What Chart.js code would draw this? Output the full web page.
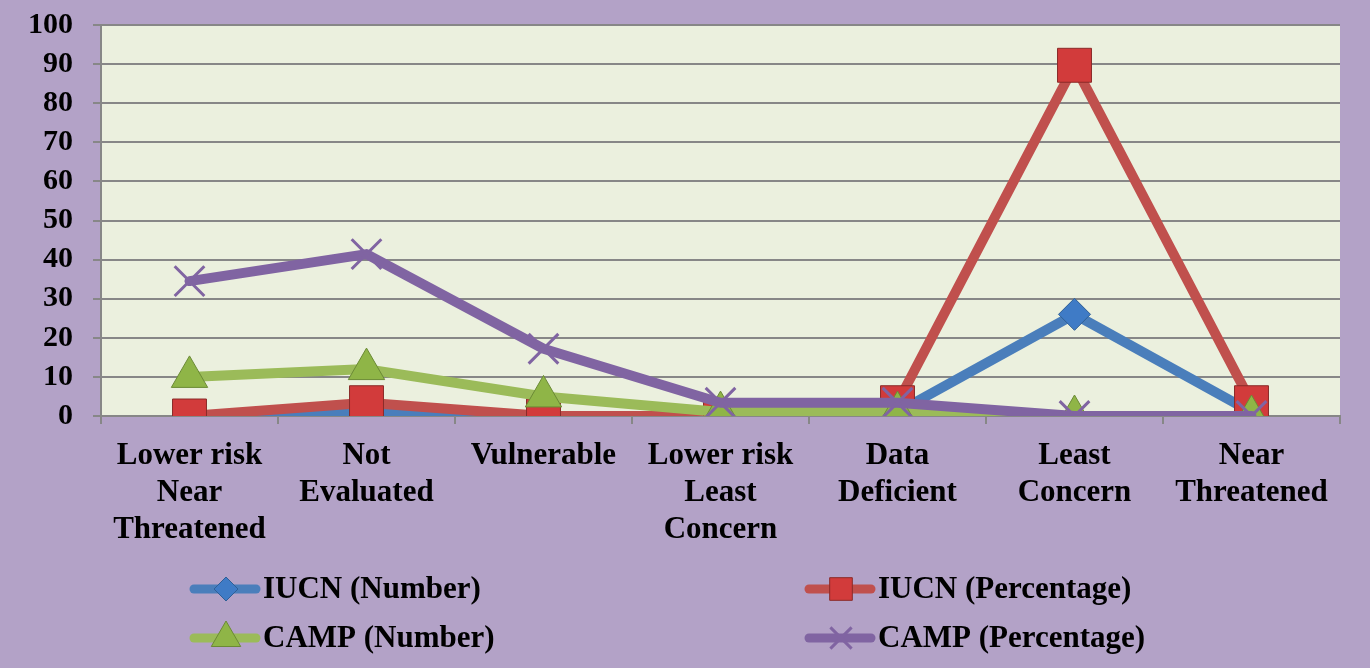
<!DOCTYPE html>
<html>
<head>
<meta charset="utf-8">
<script src="https://cdn.jsdelivr.net/npm/chart.js@4/dist/chart.umd.min.js"></script>
<style>
  html, body { margin: 0; padding: 0; background: #b3a2c7; }
  #wrap { width: 1370px; height: 668px; position: relative; }
</style>
</head>
<body>
<div id="wrap"><canvas id="statusChart"></canvas></div>
<script>
// categories (multi-line labels) and series values
const categories = [
  ['Lower risk', 'Near', 'Threatened'],
  ['Not', 'Evaluated'],
  ['Vulnerable'],
  ['Lower risk', 'Least', 'Concern'],
  ['Data', 'Deficient'],
  ['Least', 'Concern'],
  ['Near', 'Threatened']
];
const iucnNumber = [0, 1, 0, 0, 1, 26, 1];
const iucnPercentage = [0, 3.4, 0, 0, 3.4, 89.7, 3.4];
const campNumber = [10, 12, 5, 1, 1, 0, 0];
const campPercentage = [34.5, 41.4, 17.2, 3.4, 3.4, 0, 0];
const yTicks = [0, 10, 20, 30, 40, 50, 60, 70, 80, 90, 100];

(function () {
  'use strict';

  const FONT = "'Liberation Serif', 'Times New Roman', serif";
  const gridColor = '#878787';

  // light green plot area
  const plotBackground = {
    id: 'plotBackground',
    beforeDraw: function (chart) {
      const a = chart.chartArea;
      const ctx = chart.ctx;
      ctx.save();
      ctx.fillStyle = '#ebf0de';
      ctx.fillRect(a.left, a.top, a.right - a.left, a.bottom - a.top);
      ctx.restore();
    }
  };

  function drawMarker(ctx, style, r, x, y) {
    if (Chart.helpers && Chart.helpers.drawPoint) {
      Chart.helpers.drawPoint(ctx, { pointStyle: style, radius: r, rotation: 0, borderWidth: ctx.lineWidth }, x, y);
      return;
    }
    ctx.beginPath();
    ctx.arc(x, y, r * 0.7, 0, Math.PI * 2);
    ctx.fill();
    ctx.stroke();
  }

  // Excel-like legend: two columns, line with marker in the middle
  const gridLegend = {
    id: 'gridLegend',
    afterDraw: function (chart) {
      const ctx = chart.ctx;
      const cols = [190, 805];
      const rows = [589, 638];
      ctx.save();
      chart.data.datasets.forEach(function (ds, i) {
        const x = cols[i % 2];
        const y = rows[Math.floor(i / 2)];
        ctx.strokeStyle = ds.borderColor;
        ctx.lineWidth = 9;
        ctx.lineCap = 'round';
        ctx.beginPath();
        ctx.moveTo(x + 4, y);
        ctx.lineTo(x + 66, y);
        ctx.stroke();
        ctx.fillStyle = ds.pointBackgroundColor;
        ctx.strokeStyle = ds.pointBorderColor;
        ctx.lineWidth = ds.pointBorderWidth;
        ctx.lineCap = 'butt';
        drawMarker(ctx, ds.pointStyle, ds.legendRadius, x + 36, y);
        ctx.fillStyle = '#000';
        ctx.font = 'bold 31px ' + FONT;
        ctx.textAlign = 'left';
        ctx.textBaseline = 'middle';
        ctx.fillText(ds.label, x + 73, y + 1);
      });
      ctx.restore();
    }
  };

  const ctx = document.getElementById('statusChart');
  new Chart(ctx, {
    type: 'line',
    data: {
      labels: categories,
      datasets: [
        {
          label: 'IUCN (Number)',
          data: iucnNumber,
          borderColor: '#4a7ebb',
          borderWidth: 10,
          pointStyle: 'rectRot',
          pointRadius: 16,
          legendRadius: 12,
          pointBackgroundColor: '#3f7bc6',
          pointBorderColor: '#2f5f96',
          pointBorderWidth: 1,
          order: 3
        },
        {
          label: 'IUCN (Percentage)',
          data: iucnPercentage,
          borderColor: '#c0504d',
          borderWidth: 10,
          pointStyle: 'rect',
          pointRadius: 24,
          legendRadius: 16,
          pointBackgroundColor: '#d23b3b',
          pointBorderColor: '#8a2b29',
          pointBorderWidth: 1,
          order: 2
        },
        {
          label: 'CAMP (Number)',
          data: campNumber,
          borderColor: '#9bbb59',
          borderWidth: 10,
          pointStyle: 'triangle',
          pointRadius: 21,
          legendRadius: 17,
          pointBackgroundColor: '#8fb547',
          pointBorderColor: '#6b8a35',
          pointBorderWidth: 1,
          order: 1
        },
        {
          label: 'CAMP (Percentage)',
          data: campPercentage,
          borderColor: '#8064a2',
          borderWidth: 10,
          pointStyle: 'crossRot',
          pointRadius: 21,
          legendRadius: 15,
          pointBackgroundColor: '#8064a2',
          pointBorderColor: '#8064a2',
          pointBorderWidth: 3,
          order: 0
        }
      ]
    },
    options: {
      responsive: true,
      maintainAspectRatio: false,
      animation: false,
      events: [],
      layout: { padding: { top: 24, right: 30, bottom: 110, left: 0 } },
      elements: { line: { tension: 0, borderCapStyle: 'round', borderJoinStyle: 'round' } },
      plugins: {
        legend: { display: false },
        tooltip: { enabled: false }
      },
      scales: {
        x: {
          offset: true,
          afterFit: function (scale) { scale.height = 142; },
          grid: {
            offset: true,
            drawOnChartArea: false,
            tickLength: 8,
            color: gridColor,
            lineWidth: 2
          },
          border: { display: true, color: gridColor, width: 2 },
          ticks: {
            color: '#000',
            padding: 14,
            maxRotation: 0,
            autoSkip: false,
            font: { family: FONT, size: 31, weight: 'bold', lineHeight: 1.19 }
          }
        },
        y: {
          min: yTicks[0],
          max: yTicks[yTicks.length - 1],
          afterFit: function (scale) {
            scale.width = 101;
            scale.paddingTop = 0;
            scale.paddingBottom = 0;
          },
          grid: { color: gridColor, lineWidth: 2, tickLength: 8 },
          border: { display: true, color: gridColor, width: 2 },
          ticks: {
            stepSize: yTicks[1] - yTicks[0],
            autoSkip: false,
            color: '#000',
            padding: 20,
            font: { family: FONT, size: 30, weight: 'bold' }
          }
        }
      }
    },
    plugins: [plotBackground, gridLegend]
  });
})();
</script>
</body>
</html>
